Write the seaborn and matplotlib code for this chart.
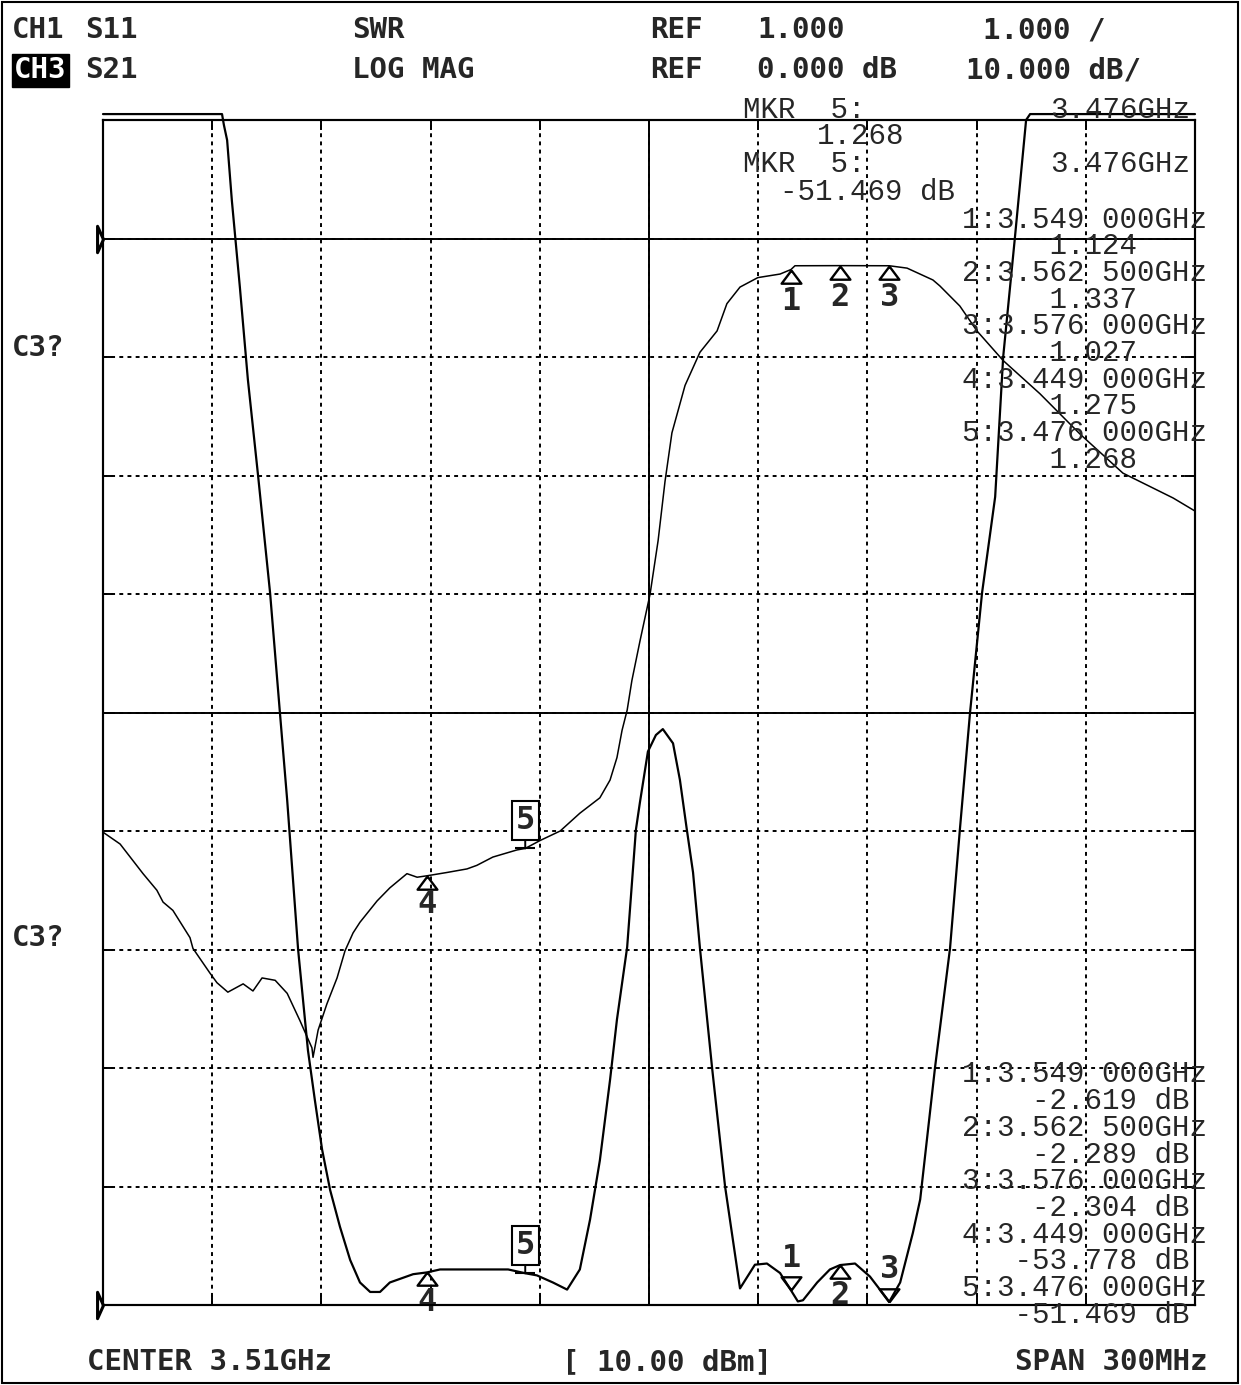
import numpy as np
import pandas as pd
import matplotlib
matplotlib.use("Agg")
import matplotlib.pyplot as plt
from matplotlib.patches import Rectangle
import seaborn as sns

#%% sweep settings (center 3.51 GHz, span 300 MHz)
f_start = 3.36
f_stop = 3.66
f_center = 3.51

#%% CH1 S11 as SWR (ref 1.000 at bottom, 1.000 /div)
s11_freq = [3.3600, 3.3927, 3.3932, 3.3941, 3.3954, 3.3976, 3.3998, 3.4026, 3.4059, 3.4086,
            3.4106, 3.4136, 3.4163, 3.4182, 3.4202, 3.4224, 3.4251, 3.4279, 3.4306, 3.4334,
            3.4361, 3.4388, 3.4452, 3.4490, 3.4526, 3.4713, 3.4760, 3.4792, 3.4836, 3.4875,
            3.4910, 3.4938, 3.4965, 3.4993, 3.5012, 3.5040, 3.5064, 3.5075, 3.5097, 3.5119,
            3.5138, 3.5166, 3.5185, 3.5204, 3.5221, 3.5240, 3.5273, 3.5309, 3.5350, 3.5391,
            3.5424, 3.5460, 3.5490, 3.5509, 3.5523, 3.5562, 3.5597, 3.5625, 3.5666, 3.5707,
            3.5760, 3.5790, 3.5825, 3.5845, 3.5886, 3.5927, 3.5954, 3.5982, 3.6015, 3.6051,
            3.6073, 3.6105, 3.6136, 3.6147, 3.6600]
s11_swr = [11.05, 11.05, 10.96, 10.83, 10.32, 9.59, 8.81, 8.00, 7.01, 6.00,
           5.26, 4.00, 3.15, 2.73, 2.31, 1.97, 1.66, 1.38, 1.19, 1.11,
           1.11, 1.19, 1.26, 1.275, 1.30, 1.30, 1.268, 1.25, 1.19, 1.13,
           1.30, 1.72, 2.22, 2.90, 3.41, 4.02, 5.01, 5.24, 5.67, 5.81,
           5.86, 5.74, 5.43, 5.01, 4.65, 4.01, 3.01, 2.00, 1.14, 1.34,
           1.35, 1.27, 1.124, 1.03, 1.04, 1.19, 1.30, 1.337, 1.35, 1.24,
           1.027, 1.19, 1.61, 1.89, 3.01, 4.01, 5.01, 6.00, 7.01, 7.82,
           9.00, 10.00, 11.00, 11.05, 11.05]

#%% CH3 S21 log mag (ref 0 dB, 10 dB/div)
s21_freq = [3.3600, 3.3647, 3.3710, 3.3748, 3.3765, 3.3792, 3.3839, 3.3847, 3.3894, 3.3913,
            3.3943, 3.3985, 3.4012, 3.4037, 3.4073, 3.4106, 3.4141, 3.4174, 3.4177, 3.4191,
            3.4215, 3.4243, 3.4265, 3.4287, 3.4306, 3.4353, 3.4388, 3.4435, 3.4463, 3.4490,
            3.4545, 3.4600, 3.4627, 3.4671, 3.4737, 3.4760, 3.4801, 3.4856, 3.4910, 3.4965,
            3.4993, 3.5012, 3.5026, 3.5040, 3.5053, 3.5075, 3.5103, 3.5125, 3.5144, 3.5163,
            3.5199, 3.5240, 3.5287, 3.5314, 3.5350, 3.5399, 3.5460, 3.5490, 3.5501, 3.5625,
            3.5760, 3.5809, 3.5880, 3.5899, 3.5954, 3.6001, 3.6073, 3.6174, 3.6284, 3.6402,
            3.6540, 3.6600]
s21_db = [-50.1, -51.1, -53.6, -55.0, -56.0, -56.7, -59.0, -59.9, -62.0, -62.8,
          -63.6, -62.9, -63.5, -62.4, -62.6, -63.7, -66.0, -68.3, -69.1, -66.8,
          -64.6, -62.4, -60.1, -58.6, -57.7, -55.9, -54.8, -53.6, -53.9, -53.78,
          -53.5, -53.2, -52.9, -52.2, -51.6, -51.47, -50.8, -50.0, -48.5, -47.2,
          -45.7, -43.8, -41.5, -39.8, -37.3, -34.0, -30.0, -25.5, -20.5, -16.4,
          -12.4, -9.6, -7.8, -5.5, -4.1, -3.3, -3.0, -2.62, -2.3, -2.29,
          -2.30, -2.5, -3.5, -4.0, -5.7, -7.8, -10.3, -13.1, -16.5, -19.8,
          -21.9, -23.0]

#%% markers
mkr_num = [1, 2, 3, 4, 5]
mkr_freq = [3.549, 3.5625, 3.576, 3.449, 3.476]
mkr_swr = [1.124, 1.337, 1.027, 1.275, 1.268]
mkr_db = [-2.619, -2.289, -2.304, -53.778, -51.469]

#%%
W, H = 1241, 1385
sns.set_style("white")
plt.rcParams['font.family'] = ['DejaVu Sans Mono', 'DejaVu Sans']
HEAD = dict(family='DejaVu Sans Mono', fontweight='bold', fontsize=21)
MK = dict(family='Liberation Mono', fontsize=21)
NUM = dict(family='DejaVu Sans Mono', fontweight='bold', fontsize=23)

fig = plt.figure(figsize=(W / 100, H / 100), dpi=100)
fig.patch.set_facecolor('white')
ax = fig.add_axes([103 / W, 1 - 1305 / H, 1092 / W, 1185 / H])
ax2 = ax.twinx()

def ftxt(x, y, s, cap, **kw):
    # x, y: left / vertical centre of the text in pixels
    fig.text(x / W, 1 - (y + cap / 2) / H, s, va='baseline', **kw)

# grid
ax.set_xlim(f_start, f_stop)
ax.set_ylim(1, 11)
ax2.set_ylim(-90, 10)
ax.set_xticks(np.linspace(f_start, f_stop, 11))
ax.set_yticks(np.arange(1, 12))
ax2.set_yticks([])
ax.grid(True, color='black', linestyle=(0, (2, 2.2)), linewidth=1.4)
ax.tick_params(direction='in', length=7, width=1.4, color='black',
               top=True, right=True, left=True, bottom=True,
               labelleft=False, labelbottom=False, labelright=False, labeltop=False)
for a in (ax, ax2):
    for sp in a.spines.values():
        sp.set_linewidth(1.5)
        sp.set_color('black')
ax.axhline(6, color='black', lw=1.4)
ax.axvline(f_center, color='black', lw=1.4)
ax2.axhline(0, color='black', lw=1.4)

# traces
df11 = pd.DataFrame({'f': s11_freq, 'swr': s11_swr})
df21 = pd.DataFrame({'f': s21_freq, 'db': s21_db})
sns.lineplot(data=df11, x='f', y='swr', ax=ax, color='black', lw=1.6, estimator=None, sort=False)
ax.lines[-1].set_clip_on(False)
sns.lineplot(data=df21, x='f', y='db', ax=ax2, color='black', lw=1.1, estimator=None, sort=False)
ax.set_xlabel(''); ax.set_ylabel(''); ax2.set_ylabel('')
ax.set_xlim(f_start, f_stop)

# reference position triangles at left edge
ref_tri = [(0, 0), (-0.45, 1), (-0.45, -1), (0, 0)]
ax.plot([f_start], [1], marker=ref_tri, ms=19, mfc='white', mec='black', mew=2.2, clip_on=False)
ax2.plot([f_start], [0], marker=ref_tri, ms=19, mfc='white', mec='black', mew=2.2, clip_on=False)

# marker symbols
tri_up = [(0, 0), (-0.75, -1), (0.75, -1), (0, 0)]
tri_dn = [(0, 0), (-0.75, 1), (0.75, 1), (0, 0)]

def mark(a, f, v, n, down=False, dy=23):
    if down:
        a.plot([f], [v], marker=tri_dn, ms=19, mfc='none', mec='black', mew=1.7, clip_on=False)
        a.annotate(str(n), (f, v), xytext=(0, dy), textcoords='offset points',
                   ha='center', va='center', **NUM)
    else:
        a.plot([f], [v], marker=tri_up, ms=19, mfc='none', mec='black', mew=1.7, clip_on=False)
        a.annotate(str(n), (f, v), xytext=(0, -dy), textcoords='offset points',
                   ha='center', va='center', annotation_clip=False, **NUM)

def mark_active(a, f, v, n):
    a.plot([f], [v], marker='_', ms=14, mew=1.5, color='black', clip_on=False)
    a.annotate(str(n), (f, v), xytext=(0, 20), textcoords='offset points',
               ha='center', va='center',
               bbox=dict(boxstyle='square,pad=0.12', fc='white', ec='black', lw=1.5),
               arrowprops=dict(arrowstyle='-', lw=1.4, shrinkA=0, shrinkB=0, color='black'),
               **NUM)

for i in range(3):
    mark(ax2, mkr_freq[i], mkr_db[i], mkr_num[i])
mark(ax2, mkr_freq[3], mkr_db[3], mkr_num[3], dy=21)
mark_active(ax2, mkr_freq[4], mkr_db[4], mkr_num[4])

mark(ax, mkr_freq[0], mkr_swr[0], mkr_num[0], down=True)
mark(ax, mkr_freq[1], mkr_swr[1], mkr_num[1], dy=22)
mark(ax, mkr_freq[2], mkr_swr[2], mkr_num[2], down=True)
mark(ax, mkr_freq[3], mkr_swr[3], mkr_num[3], dy=22)
mark_active(ax, mkr_freq[4], mkr_swr[4], mkr_num[4])

# header
cap_h = 21
ftxt(12, 28, 'CH1', cap_h, **HEAD)
ftxt(85, 28, 'S11', cap_h, **HEAD)
ftxt(352, 28, 'SWR', cap_h, **HEAD)
ftxt(650, 28, 'REF', cap_h, **HEAD)
ftxt(757, 28, '1.000', cap_h, **HEAD)
ftxt(983, 28, '1.000 /', cap_h, **HEAD)
ftxt(14, 68, 'CH3', cap_h, color='white',
     bbox=dict(boxstyle='square,pad=0.08', fc='black', ec='black'), **HEAD)
ftxt(85, 68, 'S21', cap_h, **HEAD)
ftxt(352, 68, 'LOG MAG', cap_h, **HEAD)
ftxt(650, 68, 'REF', cap_h, **HEAD)
ftxt(757, 68, '0.000 dB', cap_h, **HEAD)
ftxt(966, 68, '10.000 dB/', cap_h, **HEAD)
ftxt(12, 345, 'C3?', cap_h, **HEAD)
ftxt(12, 935, 'C3?', cap_h, **HEAD)
ftxt(87, 1360, 'CENTER 3.51GHz', cap_h, **HEAD)
ftxt(562, 1360, '[ 10.00 dBm]', cap_h, **HEAD)
ftxt(1015, 1360, 'SPAN 300MHz', cap_h, **HEAD)

# active marker readout
cap_m = 19
f5 = f"{mkr_freq[4]:.3f}GHz"
ftxt(743, 108, 'MKR  5:', cap_m, **MK)
ftxt(1190, 108, f5, cap_m, ha='right', **MK)
ftxt(817, 134, f"{mkr_swr[4]:.3f}", cap_m, **MK)
ftxt(743, 162, 'MKR  5:', cap_m, **MK)
ftxt(1190, 162, f5, cap_m, ha='right', **MK)
ftxt(780, 190, f"{mkr_db[4]:.3f} dB", cap_m, **MK)

# marker lists
def fstr(n, f):
    s = f"{f:.6f}"
    return f"{n}:{s[:5]} {s[5:]}GHz"

step = 26.67
for i in range(5):
    ftxt(962, 218 + 2 * i * step, fstr(mkr_num[i], mkr_freq[i]), cap_m, **MK)
    ftxt(962, 218 + (2 * i + 1) * step, f"{mkr_swr[i]:>10.3f}", cap_m, **MK)
    ftxt(962, 1073 + 2 * i * step, fstr(mkr_num[i], mkr_freq[i]), cap_m, **MK)
    ftxt(962, 1073 + (2 * i + 1) * step, f"{mkr_db[i]:>10.3f} dB", cap_m, **MK)

# outer frame
fig.add_artist(Rectangle((2 / W, 2 / H), 1236 / W, 1381 / H, transform=fig.transFigure,
                         fill=False, lw=1.5, ec='black'))

fig.savefig('out.png', dpi=100)
